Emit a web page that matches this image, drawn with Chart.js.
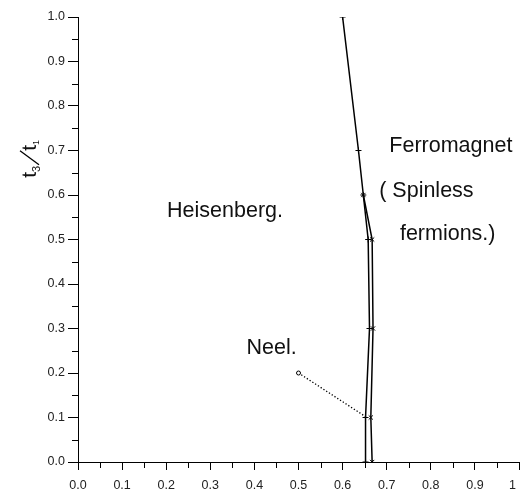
<!DOCTYPE html>
<html>
<head>
<meta charset="utf-8">
<script src="https://cdn.jsdelivr.net/npm/chart.js@4/dist/chart.umd.min.js"></script>
<style>
  html, body { margin: 0; padding: 0; background: #fff; }
  #wrap { width: 524px; height: 490px; position: relative; }
</style>
</head>
<body>
<div id="wrap"><canvas id="c"></canvas></div>
<script>
// Axis tick values
const xTicks = [0, 0.1, 0.2, 0.3, 0.4, 0.5, 0.6, 0.7, 0.8, 0.9, 1.0];
const yTicks = [0, 0.1, 0.2, 0.3, 0.4, 0.5, 0.6, 0.7, 0.8, 0.9, 1.0];

// Phase boundary, left branch (runs up to t3/t1 = 1)
const leftBranchX = [0.652, 0.652, 0.661, 0.658, 0.647, 0.636, 0.600];
const leftBranchY = [0.0, 0.1, 0.3, 0.5, 0.6, 0.7, 1.0];

// Phase boundary, right branch (joins the left one at 0.6)
const rightBranchX = [0.667, 0.664, 0.669, 0.667, 0.647];
const rightBranchY = [0.0, 0.1, 0.3, 0.5, 0.6];

// Neel pointer line
const neelX = [0.50, 0.655];
const neelY = [0.20, 0.10];

// Region names, anchored in data units (left edge, baseline)
const regionNames = ['Heisenberg.', 'Neel.', 'Ferromagnet', '( Spinless', 'fermions.)'];
const regionX = [0.202, 0.382, 0.706, 0.683, 0.730];
const regionY = [0.551, 0.243, 0.697, 0.596, 0.499];

const FONT = '"Liberation Sans", Arial, sans-serif';

function pts(xs, ys) { return xs.map((x, i) => ({ x: x, y: ys[i] })); }

// Minor ticks, x tick labels, region names and the rotated axis title
const decorations = {
  id: 'decorations',
  afterDraw(chart) {
    const ctx = chart.ctx;
    const xs = chart.scales.x, ys = chart.scales.y;
    const area = chart.chartArea;
    ctx.save();
    ctx.strokeStyle = '#000';
    ctx.lineWidth = 1;
    // minor ticks halfway between major ones
    for (let i = 0; i < xTicks.length - 1; i++) {
      const v = (xTicks[i] + xTicks[i + 1]) / 2;
      const px = Math.round(xs.getPixelForValue(v)) + 0.5;
      ctx.beginPath();
      ctx.moveTo(px, area.bottom);
      ctx.lineTo(px, area.bottom + 6);
      ctx.stroke();
    }
    for (let i = 0; i < yTicks.length - 1; i++) {
      const v = (yTicks[i] + yTicks[i + 1]) / 2;
      const py = Math.round(ys.getPixelForValue(v)) + 0.5;
      ctx.beginPath();
      ctx.moveTo(area.left, py);
      ctx.lineTo(area.left - 6, py);
      ctx.stroke();
    }
    // x tick labels
    ctx.fillStyle = '#222';
    ctx.font = '12.5px ' + FONT;
    ctx.textBaseline = 'alphabetic';
    xTicks.forEach((v, i) => {
      const last = i === xTicks.length - 1;
      const txt = last ? '1' : v.toFixed(1);
      const px = xs.getPixelForValue(v);
      ctx.textAlign = last ? 'right' : 'center';
      ctx.fillText(txt, last ? px - 3 : px, area.bottom + 27);
    });
    // region names
    ctx.fillStyle = '#111';
    ctx.font = '21.5px ' + FONT;
    ctx.textAlign = 'left';
    regionNames.forEach((t, i) => {
      ctx.fillText(t, xs.getPixelForValue(regionX[i]), ys.getPixelForValue(regionY[i]));
    });
    // y axis title: t3/t1, rotated
    ctx.translate(36, ys.getPixelForValue(0.695));
    ctx.rotate(-Math.PI / 2);
    ctx.textAlign = 'left';
    ctx.textBaseline = 'alphabetic';
    let cx = -25;
    ctx.font = '21px ' + FONT;
    ctx.fillText('t', cx, 0); cx += ctx.measureText('t').width;
    ctx.font = '11px ' + FONT;
    ctx.fillText('3', cx, 4); cx += ctx.measureText('3').width;
    ctx.lineWidth = 1.3;
    ctx.beginPath();
    ctx.moveTo(cx + 1, 3);
    ctx.lineTo(cx + 15, -16);
    ctx.stroke();
    cx += 15;
    ctx.font = '21px ' + FONT;
    ctx.fillText('t', cx, 0); cx += ctx.measureText('t').width;
    ctx.font = '9px ' + FONT;
    ctx.fillText('1', cx, 3);
    ctx.restore();
  }
};

new Chart(document.getElementById('c'), {
  type: 'scatter',
  data: {
    datasets: [
      {
        data: pts(leftBranchX, leftBranchY),
        showLine: true,
        borderColor: '#000',
        borderWidth: 1.5,
        pointStyle: 'cross',
        pointRadius: 3,
        pointBorderWidth: 1,
        pointBorderColor: '#000',
        tension: 0
      },
      {
        data: pts(rightBranchX, rightBranchY),
        showLine: true,
        borderColor: '#000',
        borderWidth: 1.5,
        pointStyle: 'crossRot',
        pointRadius: 3,
        pointBorderWidth: 1,
        pointBorderColor: '#000',
        tension: 0
      },
      {
        data: pts(neelX, neelY),
        showLine: true,
        borderColor: '#000',
        borderWidth: 1.3,
        borderDash: [1.3, 2],
        pointStyle: 'circle',
        pointRadius: [2, 0],
        pointBorderWidth: 1,
        pointBorderColor: '#000',
        pointBackgroundColor: '#fff',
        tension: 0
      }
    ]
  },
  options: {
    responsive: true,
    maintainAspectRatio: false,
    animation: false,
    events: [],
    layout: { padding: { top: 17, right: 0.5, left: 0, bottom: 0 } },
    plugins: { legend: { display: false }, tooltip: { enabled: false } },
    scales: {
      x: {
        type: 'linear',
        min: 0, max: 1,
        afterBuildTicks: s => { s.ticks = xTicks.map(v => ({ value: v })); },
        afterFit: s => { s.height = 28; s.paddingLeft = 0; s.paddingRight = 0; },
        ticks: { display: false },
        grid: { drawOnChartArea: false, drawTicks: true, tickLength: 8, color: '#000', tickColor: '#000' },
        border: { display: true, color: '#000', width: 1 }
      },
      y: {
        type: 'linear',
        min: 0, max: 1,
        afterBuildTicks: s => { s.ticks = yTicks.map(v => ({ value: v })); },
        afterFit: s => { s.width = 78; },
        ticks: {
          color: '#222',
          font: { family: FONT, size: 12.5 },
          padding: 3,
          callback: v => Number(v).toFixed(1)
        },
        grid: { drawOnChartArea: false, drawTicks: true, tickLength: 10, color: '#000', tickColor: '#000' },
        border: { display: true, color: '#000', width: 1 }
      }
    }
  },
  plugins: [decorations]
});
</script>
</body>
</html>
